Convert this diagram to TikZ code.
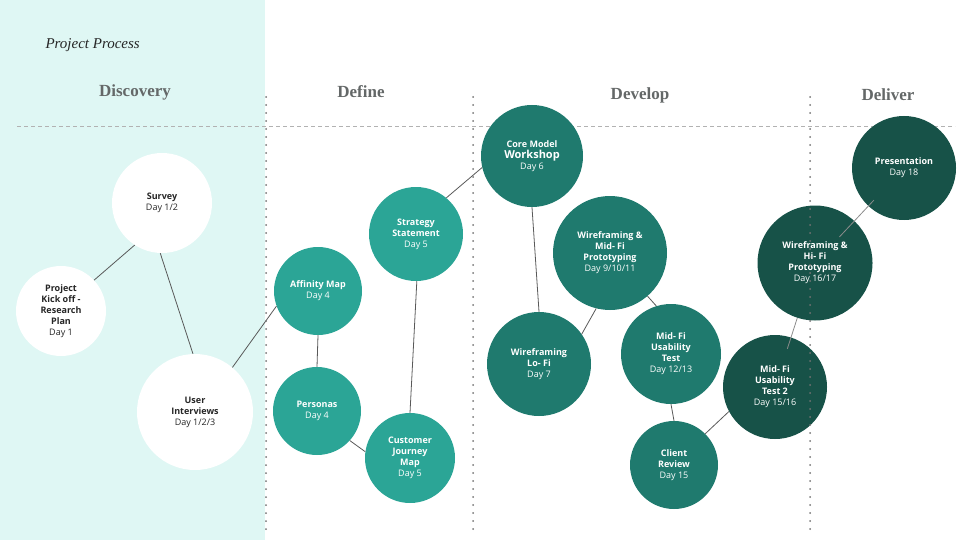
\documentclass[tikz,border=0pt]{standalone}
\usepackage{fontspec}
\setsansfont{Open Sans}
\newfontfamily\headfont{Liberation Serif}
\definecolor{bgmint}{HTML}{DFF7F4}
\definecolor{defncol}{HTML}{2BA596}
\definecolor{develcol}{HTML}{1F7A6E}
\definecolor{delivcol}{HTML}{175248}
\definecolor{headgray}{HTML}{646868}
\begin{document}
\begin{tikzpicture}[x=1pt,y=-1pt]
    \tikzset{stage/.style = {shape=circle,inner sep=0pt,align=center,font=\sffamily\fontsize{9}{11}\selectfont}}
    \tikzset{disc/.style = {stage,fill=white,text=black!85}}
    \tikzset{defn/.style = {stage,fill=defncol,text=white}}
    \tikzset{devel/.style = {stage,fill=develcol,text=white}}
    \tikzset{deliv/.style = {stage,fill=delivcol,text=white}}
    \tikzset{link/.style = {draw=black!65,line width=0.8pt}}
    \tikzset{phase/.style = {font=\headfont\bfseries\fontsize{17}{17}\selectfont,text=headgray}}
    \tikzset{divider/.style = {draw=black!55,line width=2pt,line cap=round,dash pattern=on 0pt off 8pt}}
    \useasboundingbox (0,0) rectangle (960,540);
    \fill[bgmint] (0,0) rectangle (265,540);
    \node[font=\headfont\itshape\fontsize{15}{15}\selectfont,text=black!85,anchor=west] (title) at (42,45) {Project Process};
    \node[phase] (discovery) at (135,92) {Discovery};
    \node[phase] (define) at (361,92) {Define};
    \node[phase] (develop) at (640,95) {Develop};
    \node[phase] (deliver) at (888,95) {Deliver};
    \draw[draw=black!30,line width=0.8pt,dash pattern=on 4pt off 3pt] (17,126) -- (955,126);
    % discovery
    \node[disc,minimum size=100pt] (survey) at (162,203) {\textbf{Survey}\\Day 1/2};
    \node[disc,minimum size=90pt] (kickoff) at (61,311) {\textbf{Project}\\\textbf{Kick off -}\\\textbf{Research}\\\textbf{Plan}\\Day 1};
    \node[disc,minimum size=116pt] (interviews) at (195,412) {\textbf{User}\\\textbf{Interviews}\\Day 1/2/3};
    % define
    \node[defn,minimum size=88pt] (affinity) at (318,291) {\textbf{Affinity Map}\\Day 4};
    \node[defn,minimum size=88pt] (personas) at (317,411) {\textbf{Personas}\\Day 4};
    \node[defn,minimum size=94pt] (strategy) at (416,234) {\textbf{Strategy}\\\textbf{Statement}\\Day 5};
    \node[defn,minimum size=90pt] (journey) at (410,458) {\textbf{Customer}\\\textbf{Journey}\\\textbf{Map}\\Day 5};
    % develop
    \node[devel,minimum size=102pt] (core) at (532,156) {\textbf{Core Model}\\{\fontsize{11}{13}\selectfont\textbf{Workshop}}\\Day 6};
    \node[devel,minimum size=114pt] (midfi) at (610,253) {\textbf{Wireframing \&}\\\textbf{Mid- Fi}\\\textbf{Prototyping}\\Day 9/10/11};
    \node[devel,minimum size=104pt] (lofi) at (539,364) {\textbf{Wireframing}\\\textbf{Lo- Fi}\\Day 7};
    \node[devel,minimum size=100pt] (usetest) at (671,354) {\textbf{Mid- Fi}\\\textbf{Usability}\\\textbf{Test}\\Day 12/13};
    \node[devel,minimum size=88pt] (client) at (674,465) {\textbf{Client}\\\textbf{Review}\\Day 15};
    % deliver
    \node[deliv,minimum size=104pt] (present) at (904,168) {\textbf{Presentation}\\Day 18};
    \node[deliv,minimum size=115pt] (hifi) at (815,263) {\textbf{Wireframing \&}\\\textbf{Hi- Fi}\\\textbf{Prototyping}\\Day 16/17};
    \node[deliv,minimum size=104pt] (usetest2) at (775,387) {\textbf{Mid- Fi}\\\textbf{Usability}\\\textbf{Test 2}\\Day 15/16};
    % links
    \draw[link] (kickoff.43) -- (survey.237);
    \draw[link] (survey.268) -- (interviews.92);
    \draw[link] (interviews.50) -- (affinity.200);
    \draw[link] (affinity.south) -- (personas.north);
    \draw[link] (personas.318) -- (journey.172);
    \draw[link] (strategy.271) -- (journey.90);
    \draw[link] (strategy.50) -- (core.193);
    \draw[link] (core.270) -- (lofi.90);
    \draw[link] (midfi.256) -- (lofi.35);
    \draw[link] (midfi.311) -- (usetest.107);
    \draw[link] (usetest.south) -- (client.north);
    \draw[link] (client.45) -- (usetest2.208);
    \draw[link,draw=black!45,shorten >=-12pt] (hifi) -- (usetest2);
    \draw[link,draw=black!45,shorten <=-8pt,shorten >=-22pt] (present) -- (hifi);
    % phase dividers
    \draw[divider] (266,97) -- (266,530);
    \draw[divider] (473,97) -- (473,530);
    \draw[divider] (810,97) -- (810,530);
\end{tikzpicture}
\end{document}
